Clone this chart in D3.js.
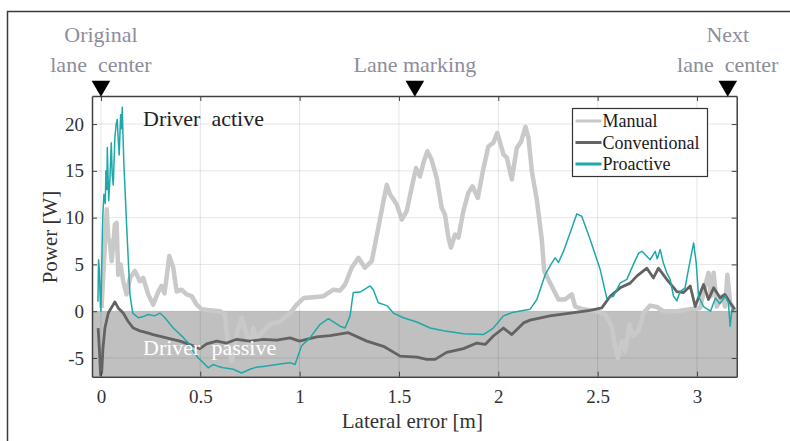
<!DOCTYPE html>
<html>
<head>
<meta charset="utf-8">
<script src="https://cdn.jsdelivr.net/npm/d3@7"></script>
<style>
  body { margin: 0; background: #fff; }
  text { font-family: "Liberation Serif", "Times New Roman", serif; }
</style>
</head>
<body>
<svg id="chart" width="790" height="441"></svg>
<script>
// lateral error [m] vs power [W]
var manualData = [
  [0.003, 0.35], [0.02, 7.1], [0.029, 10.9], [0.037, 7.8], [0.045, 7.4], [0.054, 5.35], [0.062, 7.1],
  [0.07, 9.25], [0.079, 9.45], [0.087, 3.9], [0.099, 5.0], [0.112, 3.2], [0.129, 1.8], [0.146, 3.55],
  [0.171, 4.3], [0.196, 3.2], [0.213, 3.55], [0.238, 1.8], [0.263, 0.7], [0.289, 2.1], [0.305, 2.7],
  [0.32, 1.9], [0.344, 5.9], [0.364, 4.65], [0.381, 2.1], [0.406, 2.3], [0.431, 1.8], [0.457, 1.6],
  [0.482, 0.7], [0.507, 0.2], [0.549, 0.1], [0.599, 0.0], [0.624, -0.35], [0.641, -3.9], [0.658, -5.35],
  [0.683, -2.5], [0.708, -0.7], [0.734, -2.5], [0.75, -3.9], [0.767, -1.8], [0.784, -3.2], [0.8, -2.5],
  [0.851, -1.4], [0.901, -1.1], [0.952, -0.2], [0.985, 0.7], [1.02, 1.4], [1.07, 1.5], [1.12, 1.6],
  [1.17, 2.3], [1.203, 2.2], [1.229, 2.85], [1.262, 4.65], [1.296, 5.7], [1.329, 4.65], [1.363, 5.35],
  [1.396, 8.9], [1.422, 11.75], [1.439, 13.5], [1.455, 12.5], [1.489, 11.4], [1.514, 9.8], [1.539, 10.7],
  [1.564, 13.2], [1.586, 15.3], [1.606, 14.4], [1.623, 15.85], [1.643, 17.1], [1.664, 16.2], [1.69, 14.25],
  [1.715, 11.05], [1.732, 10.3], [1.749, 7.85], [1.762, 6.8], [1.782, 8.2], [1.799, 7.85], [1.824, 10.7],
  [1.849, 12.65], [1.87, 13.35], [1.897, 12.1], [1.922, 14.95], [1.95, 17.6], [1.975, 18.0], [1.995, 19.05],
  [2.026, 16.75], [2.043, 16.4], [2.068, 14.1], [2.093, 17.45], [2.115, 18.15], [2.137, 19.7], [2.152, 18.5],
  [2.169, 14.95], [2.194, 11.9], [2.219, 7.65], [2.231, 4.3], [2.252, 3.4], [2.278, 2.3], [2.303, 1.25],
  [2.336, 1.25], [2.37, 1.8], [2.387, 0.5], [2.429, 0.2], [2.496, 0.0], [2.538, -0.35], [2.571, -1.6],
  [2.588, -3.75], [2.602, -5.0], [2.622, -3.2], [2.638, -4.3], [2.66, -1.4], [2.677, -2.65], [2.705, -2.1],
  [2.731, -0.2], [2.764, 0.6], [2.798, 0.45], [2.831, 0.0], [2.899, 0.0], [2.966, 0.2], [3.016, 0.35],
  [3.041, 2.7], [3.058, 4.1], [3.07, 1.6], [3.084, 4.1], [3.1, 0.5], [3.126, 1.6], [3.142, 0.5],
  [3.153, 3.9], [3.167, 0.9], [3.19, 0.0]
];

var conventionalData = [
  [-0.014, -1.8], [-0.008, -4.0], [-0.002, -6.8], [0.004, -6.5], [0.01, -4.0], [0.02, -1.8], [0.037, -0.2],
  [0.062, 0.7], [0.07, 1.0], [0.087, 0.35], [0.112, -0.2], [0.137, -1.1], [0.163, -1.8], [0.196, -2.1],
  [0.23, -2.3], [0.263, -2.5], [0.33, -2.85], [0.398, -3.2], [0.465, -3.7], [0.498, -4.0], [0.532, -3.5],
  [0.583, -3.2], [0.633, -3.4], [0.683, -3.0], [0.75, -3.2], [0.817, -3.0], [0.885, -3.1], [0.952, -2.85],
  [1.0, -3.2], [1.086, -2.75], [1.153, -2.6], [1.245, -2.3], [1.338, -3.2], [1.422, -3.75], [1.506, -4.8],
  [1.59, -4.9], [1.64, -5.15], [1.682, -5.15], [1.74, -4.4], [1.825, -4.0], [1.892, -3.4], [1.934, -3.55],
  [1.975, -2.65], [2.026, -1.8], [2.068, -2.5], [2.127, -1.25], [2.16, -0.95], [2.26, -0.5], [2.362, -0.2],
  [2.462, 0.1], [2.521, 0.35], [2.563, 1.6], [2.613, 2.5], [2.664, 3.0], [2.697, 3.75], [2.748, 4.6],
  [2.781, 3.55], [2.806, 4.6], [2.848, 3.4], [2.899, 2.1], [2.932, 2.0], [2.966, 2.7], [2.991, 0.5],
  [3.033, 2.85], [3.058, 1.25], [3.084, 2.5], [3.117, 1.4], [3.14, 1.8], [3.167, 0.9], [3.19, 0.2]
];

var proactiveData = [
  [-0.015, 1.0], [-0.012, 5.5], [-0.008, 4.5], [-0.004, 1.5], [0.0, 0.0], [0.005, 6.0], [0.01, 10.5],
  [0.015, 12.5], [0.022, 11.5], [0.025, 15.0], [0.03, 13.0], [0.032, 17.5], [0.039, 11.8], [0.045, 14.0],
  [0.052, 18.0], [0.057, 14.5], [0.062, 13.5], [0.07, 18.5], [0.076, 19.9], [0.082, 20.5], [0.088, 18.0],
  [0.092, 16.7], [0.099, 21.0], [0.103, 19.5], [0.107, 21.8], [0.115, 16.0], [0.129, 9.3], [0.146, 1.8],
  [0.16, -0.2], [0.188, -0.7], [0.21, -0.6], [0.238, -0.35], [0.27, -0.5], [0.297, -0.2], [0.322, -0.7],
  [0.364, -1.8], [0.414, -2.8], [0.44, -3.4], [0.465, -4.3], [0.49, -5.0], [0.515, -5.5], [0.54, -6.05],
  [0.565, -5.7], [0.59, -5.9], [0.616, -6.05], [0.666, -6.2], [0.708, -6.6], [0.75, -6.2], [0.78, -6.0],
  [0.817, -5.9], [0.85, -5.8], [0.885, -5.7], [0.92, -5.6], [0.952, -5.5], [0.977, -5.7], [1.01, -3.7],
  [1.052, -2.85], [1.103, -1.4], [1.145, -0.8], [1.203, -1.6], [1.229, -1.8], [1.254, -0.5], [1.27, 2.0],
  [1.304, 2.05], [1.355, 2.7], [1.371, 2.3], [1.396, 0.9], [1.439, 0.6], [1.472, -0.2], [1.522, -0.7],
  [1.59, -1.15], [1.657, -1.8], [1.724, -2.1], [1.825, -2.4], [1.925, -2.5], [1.975, -1.8], [2.026, -0.5],
  [2.076, -0.1], [2.16, 0.2], [2.194, 1.25], [2.236, 3.9], [2.265, 5.0], [2.286, 5.7], [2.303, 5.2],
  [2.33, 6.5], [2.362, 8.4], [2.395, 10.4], [2.42, 10.15], [2.462, 7.7], [2.513, 4.45], [2.546, 1.4],
  [2.58, 1.6], [2.613, 3.0], [2.647, 3.4], [2.68, 5.0], [2.706, 6.2], [2.723, 6.4], [2.739, 6.05],
  [2.764, 5.5], [2.79, 6.4], [2.8, 5.6], [2.815, 6.6], [2.83, 5.2], [2.848, 4.1], [2.865, 3.4],
  [2.882, 1.6], [2.899, 1.1], [2.915, 2.1], [2.94, 2.5], [2.957, 4.45], [2.983, 7.3], [2.996, 5.2],
  [3.008, 1.6], [3.033, 0.5], [3.068, 0.0], [3.093, 1.4], [3.115, 0.8], [3.142, 1.6], [3.158, 0.9],
  [3.167, -1.6], [3.176, 0.2], [3.185, 0.0]
];

var seriesNames = ["Manual", "Conventional", "Proactive"];
var xTicks = [0, 0.5, 1, 1.5, 2, 2.5, 3];
var yTicks = [-5, 0, 5, 10, 15, 20];
var markerPos = [0, 1.58, 3.155];
var markerLabels = [["Original", "lane  center"], ["Lane marking"], ["Next", "lane  center"]];

var colors = { Manual: "#c9c9c9", Conventional: "#636363", Proactive: "#1fa8a8" };
var widths = { Manual: 4.5, Conventional: 2.8, Proactive: 1.5 };

var svg = d3.select("#chart");
var plotL = 92, plotR = 736.7, plotT = 96, plotB = 376.7;

var x = d3.scaleLinear().domain([-0.045, 3.2]).range([plotL, plotR]);
var y = d3.scaleLinear().domain([-7, 23]).range([plotB, plotT]);

// outer frame (runs off the picture at right / bottom)
svg.append("rect")
  .attr("x", 7.5).attr("y", 11.5)
  .attr("width", 900).attr("height", 600)
  .attr("fill", "none").attr("stroke", "#3a3a3a").attr("stroke-width", 1.5);

// passive region
svg.append("rect")
  .attr("x", plotL).attr("y", y(0))
  .attr("width", plotR - plotL).attr("height", plotB - y(0))
  .attr("fill", "#c0c0c0");

// grid
var grid = svg.append("g");
xTicks.forEach(function(t) {
  grid.append("line").attr("x1", x(t)).attr("x2", x(t)).attr("y1", plotT).attr("y2", plotB)
    .attr("stroke", "#000").attr("stroke-opacity", 0.1);
});
yTicks.forEach(function(t) {
  grid.append("line").attr("x1", plotL).attr("x2", plotR).attr("y1", y(t)).attr("y2", y(t))
    .attr("stroke", "#000").attr("stroke-opacity", 0.1);
});

svg.append("defs").append("clipPath").attr("id", "plotClip")
  .append("rect").attr("x", plotL).attr("y", plotT).attr("width", plotR - plotL).attr("height", plotB - plotT);

var line = d3.line().x(function(d) { return x(d[0]); }).y(function(d) { return y(d[1]); });

var allData = { Manual: manualData, Conventional: conventionalData, Proactive: proactiveData };
var lines = svg.append("g").attr("clip-path", "url(#plotClip)");
seriesNames.forEach(function(name) {
  lines.append("path")
    .datum(allData[name])
    .attr("d", line)
    .attr("fill", "none")
    .attr("stroke", colors[name])
    .attr("stroke-width", widths[name])
    .attr("stroke-linejoin", "round");
});

// axes, matlab style box with inner ticks
var axisColor = "#404040";
function styleAxis(g) {
  g.selectAll("path, line").attr("stroke", axisColor);
  g.selectAll("text").attr("fill", "#333").style("font-size", "19px")
    .style("font-family", "'Liberation Serif', 'Times New Roman', serif");
}
var fmt = function(d) { return String(d); };

svg.append("g").attr("transform", "translate(0," + plotB + ")")
  .call(d3.axisBottom(x).tickValues(xTicks).tickFormat(fmt).tickSizeInner(-5).tickSizeOuter(0).tickPadding(13))
  .call(styleAxis);
svg.append("g").attr("transform", "translate(" + plotL + ",0)")
  .call(d3.axisLeft(y).tickValues(yTicks).tickFormat(fmt).tickSizeInner(-5).tickSizeOuter(0).tickPadding(8))
  .call(styleAxis);
svg.append("g").attr("transform", "translate(0," + plotT + ")")
  .call(d3.axisTop(x).tickValues(xTicks).tickFormat("").tickSizeInner(-5).tickSizeOuter(0))
  .call(styleAxis);
svg.append("g").attr("transform", "translate(" + plotR + ",0)")
  .call(d3.axisRight(y).tickValues(yTicks).tickFormat("").tickSizeInner(-5).tickSizeOuter(0))
  .call(styleAxis);
svg.selectAll(".domain").attr("stroke-width", 1.5);

// axis titles
svg.append("text")
  .attr("x", (plotL + plotR) / 2 - 2).attr("y", 428)
  .attr("text-anchor", "middle").attr("fill", "#333").style("font-size", "21px")
  .text("Lateral error [m]");
svg.append("text")
  .attr("transform", "translate(57," + 237 + ") rotate(-90)")
  .attr("text-anchor", "middle").attr("fill", "#333").style("font-size", "21px")
  .text("Power [W]");

// region labels
svg.append("text").attr("x", 143).attr("y", 126).attr("fill", "#222")
  .style("font-size", "22px").style("white-space", "pre").text("Driver  active");
svg.append("text").attr("x", 143).attr("y", 355).attr("fill", "#fff")
  .style("font-size", "22px").style("white-space", "pre").text("Driver  passive");

// markers above the plot
var tri = d3.symbol().type(d3.symbolTriangle).size(150);
markerPos.forEach(function(p, i) {
  svg.append("path")
    .attr("d", tri)
    .attr("transform", "translate(" + x(p) + ",86) rotate(180)")
    .attr("fill", "#000");
  var lab = markerLabels[i];
  lab.forEach(function(s, j) {
    svg.append("text")
      .attr("x", x(p)).attr("y", 72 - (lab.length - 1 - j) * 30)
      .attr("text-anchor", "middle").attr("fill", "#8d8d9e")
      .style("font-size", "22px").style("white-space", "pre")
      .text(s);
  });
});

// legend
var lg = svg.append("g").attr("transform", "translate(572.5,108.5)");
lg.append("rect").attr("width", 135).attr("height", 68)
  .attr("fill", "#fff").attr("stroke", "#333").attr("stroke-width", 1.2);
seriesNames.forEach(function(name, i) {
  var yy = 12.5 + i * 21.5;
  lg.append("line").attr("x1", 3).attr("x2", 29).attr("y1", yy).attr("y2", yy)
    .attr("stroke", colors[name]).attr("stroke-width", 3);
  lg.append("text").attr("x", 30).attr("y", yy + 6).attr("fill", "#1a1a1a")
    .style("font-size", "18px").text(name);
});
</script>
</body>
</html>
